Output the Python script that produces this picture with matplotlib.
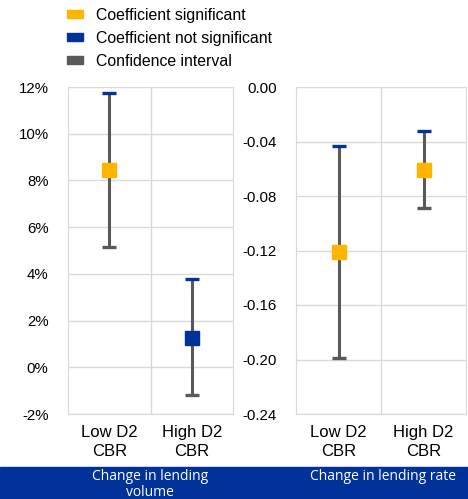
import matplotlib
matplotlib.use("Agg")
import matplotlib.pyplot as plt
from matplotlib.patches import Rectangle, Patch

plt.rcParams['font.family'] = ['Liberation Sans', 'DejaVu Sans']

categories = ['Low D2\nCBR', 'High D2\nCBR']

# change in lending volume (%)
vol_coef = [8.45, 1.25]
vol_low = [5.15, -1.19]
vol_high = [11.74, 3.78]
vol_sig = [True, False]

# change in lending rate
rate_coef = [-0.121, -0.061]
rate_low = [-0.199, -0.089]
rate_high = [-0.0435, -0.0325]
rate_sig = [True, True]

YELLOW = '#FFB400'
BLUE = '#003299'
GREY = '#595959'
GRID = '#d9d9d9'

W, H = 468, 499
fig = plt.figure(figsize=(W / 100, H / 100), dpi=100)


def panel(rect, coef, lo, hi, sig, ylim, yticks, fmt):
    ax = fig.add_axes(rect)
    x = range(len(coef))
    ax.vlines(x, lo, hi, color=GREY, lw=2.2, zorder=2)
    ax.plot(x, lo, ls='none', marker='_', ms=10.5, mew=2.4, color=GREY, zorder=3)
    ax.plot(x, hi, ls='none', marker='_', ms=10.5, mew=2.4, color=BLUE, zorder=3)
    for xi, c, s in zip(x, coef, sig):
        ax.plot(xi, c, ls='none', marker='s', ms=10.5, color=YELLOW if s else BLUE, zorder=4)
    ax.set_xlim(-0.5, 1.5)
    ax.set_ylim(*ylim)
    ax.set_yticks(yticks)
    ax.set_yticklabels([fmt(v) for v in yticks])
    ax.set_xticks(list(x))
    ax.set_xticklabels(categories, linespacing=1.3)
    ax.set_xticks([0.5], minor=True)
    ax.grid(True, axis='y', color=GRID, lw=1)
    ax.grid(True, axis='x', which='minor', color=GRID, lw=1)
    ax.set_axisbelow(True)
    for s in ax.spines.values():
        s.set_color(GRID)
    ax.tick_params(which='both', length=0, colors='black')
    ax.tick_params(axis='y', pad=14, labelsize=10.8)
    ax.tick_params(axis='x', pad=8, labelsize=12)
    return ax


panel([68 / W, 85 / H, 165 / W, 327 / H], vol_coef, vol_low, vol_high, vol_sig,
      (-2, 12), list(range(-2, 13, 2)), lambda v: f'{v}%')
rt = [-0.24, -0.20, -0.16, -0.12, -0.08, -0.04, 0.0]
panel([296 / W, 85 / H, 170 / W, 327 / H], rate_coef, rate_low, rate_high, rate_sig,
      (-0.24, 0.0), rt, lambda v: f'{v:.2f}')

# legend
handles = [Patch(color=YELLOW), Patch(color=BLUE), Patch(color=GREY)]
labels = ['Coefficient significant', 'Coefficient not significant', 'Confidence interval']
fig.legend(handles, labels, loc='upper left', bbox_to_anchor=(67 / W, 1 - 8 / H),
           frameon=False, fontsize=11.4, handlelength=1.0, handleheight=0.4,
           handletextpad=0.85, labelspacing=0.5, borderaxespad=0, borderpad=0)

# bottom band
fig.patches.append(Rectangle((0, 0), 1, 32 / H, transform=fig.transFigure,
                             color=BLUE, zorder=0))
fig.text(150 / W, 23 / H, 'Change in lending', color='white', ha='center',
         va='center', fontsize=10, family=['Open Sans', 'DejaVu Sans'])
fig.text(150 / W, 7 / H, 'volume', color='white', ha='center',
         va='center', fontsize=10, family=['Open Sans', 'DejaVu Sans'])
fig.text(383 / W, 23 / H, 'Change in lending rate', color='white', ha='center',
         va='center', fontsize=10, family=['Open Sans', 'DejaVu Sans'])

fig.savefig('out.png', dpi=100)
